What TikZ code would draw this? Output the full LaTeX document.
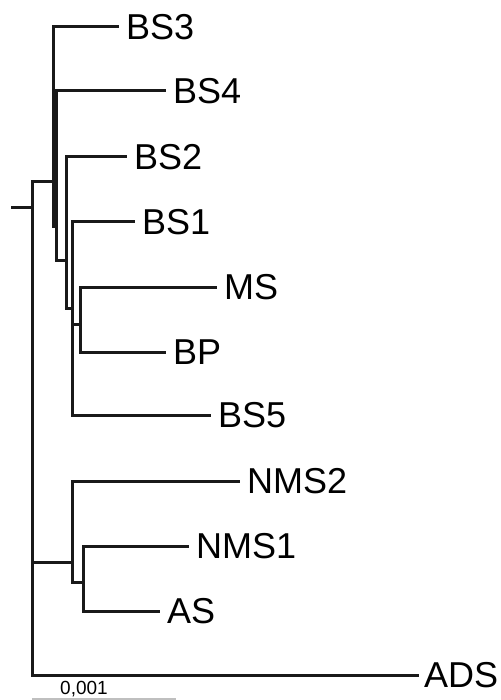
\documentclass[tikz,border=0pt]{standalone}
\usepackage{fontspec}
\setmainfont{Liberation Sans}
\begin{document}
\begin{tikzpicture}[x=1pt,y=-1pt,
  br/.style={line width=3pt, color=black!90, line cap=rect},
  leaf/.style={anchor=west, inner xsep=9pt, inner ysep=0pt, font=\fontsize{36}{42}\selectfont},
  scalelbl/.style={font=\fontsize{19}{21}\selectfont, inner sep=0pt}]
\useasboundingbox (0,0) rectangle (500,700);
% root
\coordinate (r0) at (12,208);
\coordinate (r1) at (32,208);
\coordinate (rT) at (32,182);
\coordinate (rM) at (32,562);
\coordinate (rB) at (32,675);
% upper clade
\coordinate (a0) at (53,182);
\coordinate (a1) at (53,27);
\coordinate (a2) at (53,227);
\coordinate (b1) at (56,91);
\coordinate (b2) at (56,260);
\coordinate (c0) at (66,260);
\coordinate (c1) at (66,157);
\coordinate (c2) at (66,308);
\coordinate (d0) at (72,308);
\coordinate (d1) at (72,222);
\coordinate (d2) at (72,415);
\coordinate (d3) at (72,324);
\coordinate (e0) at (80,324);
\coordinate (e1) at (80,287);
\coordinate (e2) at (80,352);
% lower clade
\coordinate (f0) at (72,562);
\coordinate (f1) at (72,481);
\coordinate (f2) at (72,582);
\coordinate (g0) at (83,582);
\coordinate (g1) at (83,546);
\coordinate (g2) at (83,611);
% leaves
\node[leaf] (BS3) at (117,27) {BS3};
\node[leaf] (BS4) at (164,91) {BS4};
\node[leaf] (BS2) at (125,157) {BS2};
\node[leaf] (BS1) at (133,222) {BS1};
\node[leaf] (MS) at (215,287) {MS};
\node[leaf] (BP) at (164,352) {BP};
\node[leaf] (BS5) at (209,415) {BS5};
\node[leaf] (NMS2) at (238,481) {NMS2};
\node[leaf] (NMS1) at (187,546) {NMS1};
\node[leaf] (AS) at (158,611) {AS};
\node[leaf, inner xsep=7pt] (ADS) at (417,675) {ADS};
% branches
\draw[br] (r0) -- (r1);
\draw[br] (rT) -- (rB);
\draw[br] (rT) -- (a0);
\draw[br] (a1) -- (a2);
\draw[br] (a1) -- (BS3.west);
\draw[br] (b1) -- (b2);
\draw[br] (b1) -- (BS4.west);
\draw[br] (b2) -- (c0);
\draw[br] (c1) -- (c2);
\draw[br] (c1) -- (BS2.west);
\draw[br] (c2) -- (d0);
\draw[br] (d1) -- (d2);
\draw[br] (d1) -- (BS1.west);
\draw[br] (d3) -- (e0);
\draw[br] (e1) -- (e2);
\draw[br] (e1) -- (MS.west);
\draw[br] (e2) -- (BP.west);
\draw[br] (d2) -- (BS5.west);
\draw[br] (rM) -- (f0);
\draw[br] (f1) -- (f2);
\draw[br] (f1) -- (NMS2.west);
\draw[br] (f2) -- (g0);
\draw[br] (g1) -- (g2);
\draw[br] (g1) -- (NMS1.west);
\draw[br] (g2) -- (AS.west);
\draw[br] (rB) -- (ADS.west);
% scale bar
\coordinate (s0) at (32,699);
\coordinate (s1) at (176,699);
\draw[line width=2pt, color=black!25] (s0) -- (s1);
\node[scalelbl] (scl) at (84,689) {0,001};
\end{tikzpicture}
\end{document}
